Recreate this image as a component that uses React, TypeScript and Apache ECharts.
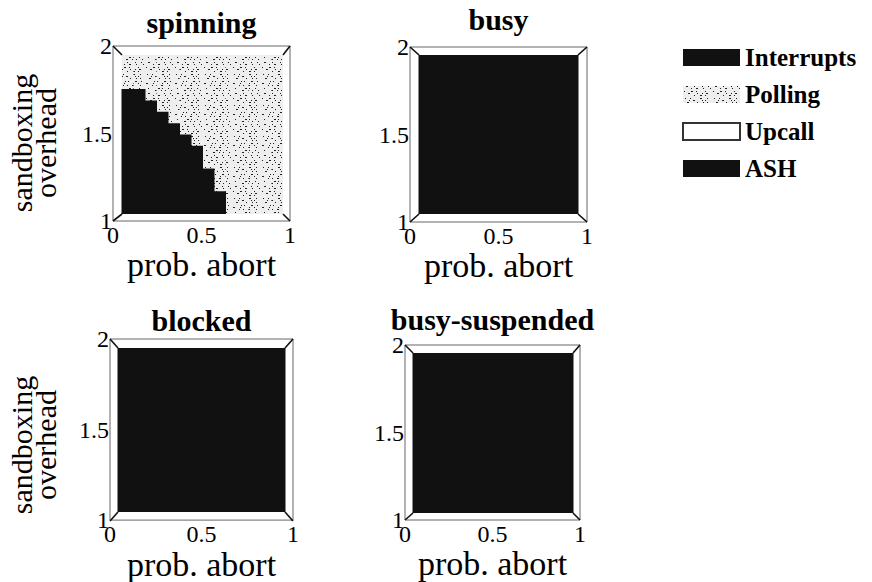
import React, { useEffect, useRef } from 'react';
import * as echarts from 'echarts';

// Probability-of-abort bins (14 equal columns spanning 0..1)
const abortBins = ['0.036', '0.107', '0.179', '0.250', '0.321', '0.393', '0.464', '0.536', '0.607', '0.679', '0.750', '0.821', '0.893', '0.964'];

// Upper sandboxing-overhead edge of the winning region in each abort bin
const spinningInterrupts = [1.786, 1.786, 1.714, 1.643, 1.571, 1.5, 1.429, 1.286, 1.143, 1, 1, 1, 1, 1];
const spinningPolling = [2, 2, 2, 2, 2, 2, 2, 2, 2, 2, 2, 2, 2, 2];
const busyAsh = [2, 2, 2, 2, 2, 2, 2, 2, 2, 2, 2, 2, 2, 2];
const blockedAsh = [2, 2, 2, 2, 2, 2, 2, 2, 2, 2, 2, 2, 2, 2];
const busySuspendedAsh = [2, 2, 2, 2, 2, 2, 2, 2, 2, 2, 2, 2, 2, 2];

const legendNames = ['Interrupts', 'Polling', 'Upcall', 'ASH'];
const panelTitles = ['spinning', 'busy', 'blocked', 'busy-suspended'];

const FONT = '"Liberation Serif", "Times New Roman", Times, serif';
const INK = '#111111';
const OVERHEAD_MIN = 1;

// sparse, irregular stipple used for the "Polling" fill
const pollingDecal = {
  symbol: 'rect',
  symbolSize: 1,
  symbolKeepAspect: false,
  color: '#222222',
  backgroundColor: '#eeeeee',
  dashArrayX: [
    [0, 3, 2, 6, 1, 7, 1, 5, 1, 3],
    [0, 8, 1, 4, 2, 5, 1, 6, 1, 1],
    [0, 1, 1, 6, 2, 3, 1, 8, 1, 6],
    [0, 5, 2, 7, 1, 4, 1, 3, 2, 4],
    [0, 11, 1, 5, 2, 3, 1, 6],
    [0, 2, 1, 4, 1, 9, 2, 5, 1, 4],
    [0, 6, 1, 3, 2, 7, 1, 2, 1, 6],
    [0, 4, 2, 8, 1, 5, 1, 3, 1, 4],
    [0, 9, 1, 2, 1, 6, 2, 4, 1, 3],
    [0, 1, 2, 5, 1, 8, 1, 4, 1, 6],
    [0, 7, 1, 3, 1, 4, 2, 6, 1, 4],
    [0, 3, 1, 9, 2, 2, 1, 5, 1, 5],
    [0, 10, 2, 4, 1, 3, 1, 5, 1, 2],
  ],
  dashArrayY: [1, 1, 1, 2, 1, 1, 1, 1, 1, 2, 1, 1, 1, 1, 1, 2, 1, 1, 1, 1, 1, 2, 1, 1, 1, 2],
};

type Box = [number, number, number, number];
interface PanelLayout {
  outer: Box;
  inner: Box;
  titleY: number;
  yLabelY?: number;
}

// frame geometry of the four panels (outer axis box and inset surface box)
const layouts: PanelLayout[] = [
  { outer: [113, 46, 290, 221], inner: [122, 55, 283, 214], titleY: 22, yLabelY: 143 },
  { outer: [410, 47, 587, 222], inner: [419, 55, 578, 214], titleY: 19 },
  { outer: [110, 339, 293, 521], inner: [118, 348, 285, 512], titleY: 320, yLabelY: 445 },
  { outer: [405, 345, 580, 520], inner: [413, 353, 573, 513], titleY: 319 },
];

// solid column from the bottom of the overhead range up to the bin's value;
// columns are widened by half a pixel each side so neighbours join without seams
function renderColumn(_params: any, api: any) {
  const top = api.value(1);
  if (!(top > OVERHEAD_MIN)) return null;
  const bin = api.value(0);
  const pTop = api.coord([bin, top]);
  const pBase = api.coord([bin, OVERHEAD_MIN]);
  const w = api.size([1, 0])[0];
  return {
    type: 'rect',
    shape: { x: pTop[0] - w / 2 - 0.5, y: pTop[1], width: w + 1, height: pBase[1] - pTop[1] },
    style: { fill: api.visual('color') },
  };
}

function columnSeries(name: string, axisIndex: number, values: number[]) {
  return {
    type: 'custom',
    name,
    xAxisIndex: axisIndex,
    yAxisIndex: axisIndex,
    z: 5,
    silent: true,
    renderItem: renderColumn,
    encode: { x: 0, y: 1 },
    itemStyle: { color: INK },
    data: values.map((v, k) => [k, v]),
  };
}

function buildOption() {
  const grid: any[] = [];
  const xAxis: any[] = [];
  const yAxis: any[] = [];
  const graphic: any[] = [];

  layouts.forEach((p, i) => {
    const [ol, ot, or, ob] = p.outer;
    const [il, it, ir, ib] = p.inner;
    grid.push({
      left: ol, top: ot, width: or - ol, height: ob - ot,
      show: true, borderColor: '#666', borderWidth: 1, backgroundColor: 'transparent',
    });
    grid.push({ left: il, top: it, width: ir - il, height: ib - it });

    xAxis.push({
      gridIndex: 2 * i, type: 'value', min: 0, max: 1, interval: 0.5,
      axisLine: { show: false }, axisTick: { show: false }, splitLine: { show: false },
      axisLabel: { margin: 2, fontSize: 24, fontFamily: FONT, color: '#000' },
      name: 'prob. abort', nameLocation: 'middle', nameGap: 17,
      nameTextStyle: { fontSize: 34, fontFamily: FONT, color: '#000' },
    });
    xAxis.push({ gridIndex: 2 * i + 1, type: 'category', data: abortBins, show: false, boundaryGap: true });

    yAxis.push({
      gridIndex: 2 * i, type: 'value', min: 1, max: 2, interval: 0.5,
      axisLine: { show: false }, axisTick: { show: false }, splitLine: { show: false },
      axisLabel: { margin: 1, fontSize: 24, fontFamily: FONT, color: '#000' },
    });
    yAxis.push({ gridIndex: 2 * i + 1, type: 'value', min: 1, max: 2, startValue: 1, show: false });

    // receding edges joining the corners of the two boxes
    const corners: [number, number, number, number][] = [
      [ol, ot, il, it], [or, ot, ir, it], [ol, ob, il, ib], [or, ob, ir, ib],
    ];
    corners.forEach(([x1, y1, x2, y2]) => {
      graphic.push({
        type: 'line', z: 10,
        shape: { x1, y1, x2, y2 },
        style: { stroke: INK, lineWidth: 1.6 },
      });
    });

    graphic.push({
      type: 'text', z: 10,
      x: (ol + or) / 2, y: p.titleY,
      style: {
        text: panelTitles[i], fill: '#000', font: `bold 30px ${FONT}`,
        align: 'center', verticalAlign: 'middle',
      },
    });

    if (p.yLabelY !== undefined) {
      graphic.push({
        type: 'text', z: 10,
        x: 33, y: p.yLabelY, rotation: Math.PI / 2,
        style: {
          text: 'sandboxing\noverhead', fill: '#000', font: `30px ${FONT}`,
          lineHeight: 24, align: 'center', verticalAlign: 'middle',
        },
      });
    }
  });

  const series: any[] = [
    {
      type: 'bar', name: 'Polling', xAxisIndex: 1, yAxisIndex: 1, data: spinningPolling,
      barCategoryGap: '0%', silent: true, z: 2,
      itemStyle: { color: '#eeeeee', decal: pollingDecal },
    },
    columnSeries('Interrupts', 1, spinningInterrupts),
    {
      type: 'scatter', name: 'Upcall', xAxisIndex: 1, yAxisIndex: 1, data: [],
      itemStyle: { color: '#ffffff', borderColor: '#000', borderWidth: 1.5 },
    },
    columnSeries('ASH', 3, busyAsh),
    columnSeries('ASH', 5, blockedAsh),
    columnSeries('ASH', 7, busySuspendedAsh),
  ];

  return {
    animation: false,
    backgroundColor: '#ffffff',
    grid,
    xAxis,
    yAxis,
    series,
    graphic,
    legend: {
      data: legendNames.map((name) => ({ name, icon: 'rect' })),
      orient: 'vertical',
      left: 682,
      top: 45,
      padding: 0,
      itemWidth: 57,
      itemHeight: 17,
      itemGap: 12,
      selectedMode: false,
      textStyle: { fontSize: 25, fontWeight: 'bold', fontFamily: FONT, color: '#000', lineHeight: 25 },
    },
  };
}

export default function App() {
  const ref = useRef<HTMLDivElement>(null);
  useEffect(() => {
    if (!ref.current) return;
    const chart = echarts.init(ref.current, null, { renderer: 'svg' });
    chart.setOption(buildOption() as any);
    return () => chart.dispose();
  }, []);
  return (
    <div
      ref={ref}
      style={{ position: 'absolute', left: 0, top: 0, width: 872, height: 582, background: '#fff' }}
    />
  );
}
